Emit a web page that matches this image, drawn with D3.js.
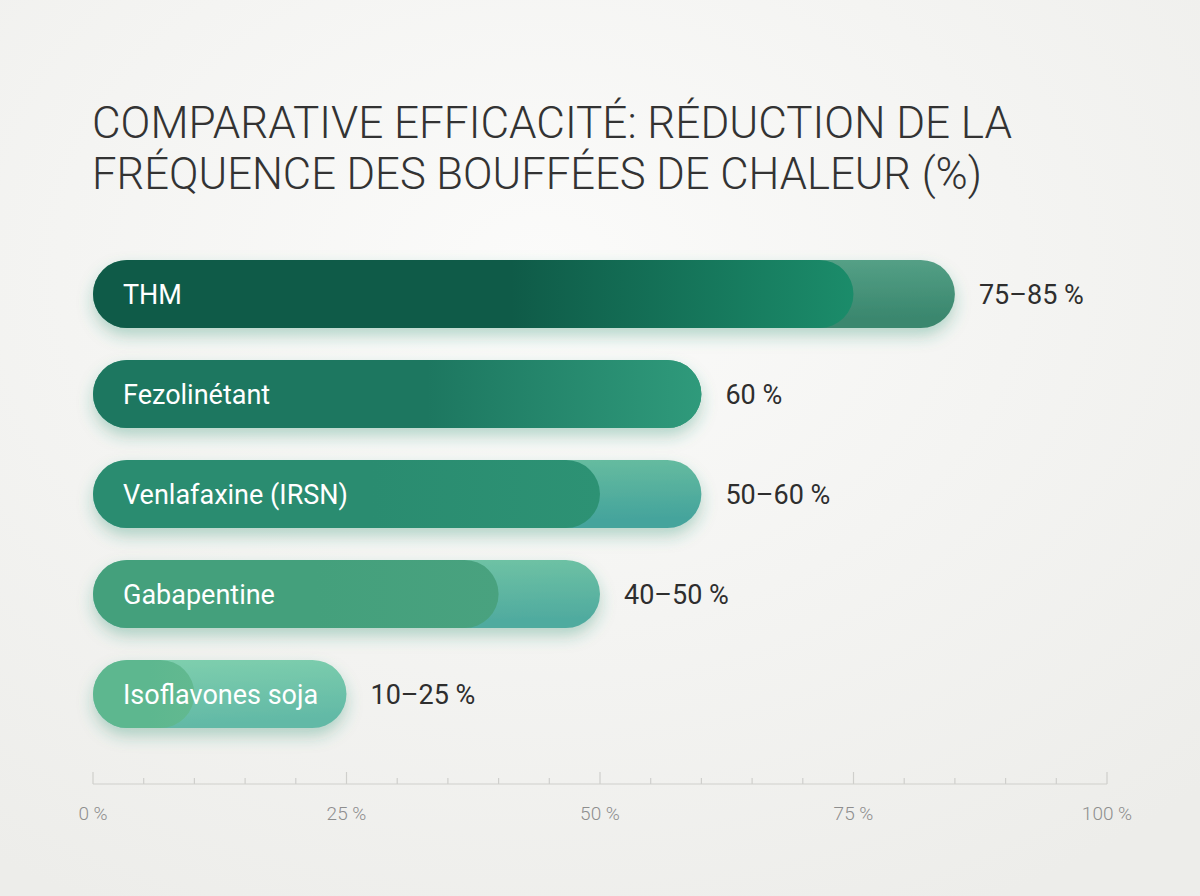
<!DOCTYPE html>
<html>
<head>
<meta charset="utf-8">
<script src="https://cdn.jsdelivr.net/npm/d3@7"></script>
<style>
  body { margin: 0; background: #f3f3f1; }
  svg { display: block; }
</style>
</head>
<body>
<script>

// data
var treatments = ["THM", "Fezolinétant", "Venlafaxine (IRSN)", "Gabapentine", "Isoflavones soja"];
var lowValues = [75, 60, 50, 40, 10];
var highValues = [85, 60, 60, 50, 25];
var valueLabels = ["75–85 %", "60 %", "50–60 %", "40–50 %", "10–25 %"];
var tickValues = [0, 25, 50, 75, 100];
var tickLabels = ["0 %", "25 %", "50 %", "75 %", "100 %"];

// colours for each bar: dark (low) part and light (high) part
var darkStart = ["#0f5b48", "#1d7760", "#2a8c70", "#44a07c", "#5db78f"];
var darkEnd = ["#1b8c6a", "#2f9a7b", "#2d9274", "#49a27f", "#62b990"];
var lightTop = ["#5aa58b", "#3a9e80", "#6cc0a0", "#74c6a5", "#80d0ae"];
var lightBottom = ["#3a876e", "#2f9476", "#45a49c", "#50ab9f", "#62b9a6"];

var width = 1200,
    height = 896,
    margin = {left: 93, right: 93},
    barHeight = 68;

var svg = d3.select("body")
            .append("svg")
            .attr("width", width)
            .attr("height", height);

var defs = svg.append("defs");

// background gradient
var bg = defs.append("radialGradient")
             .attr("id", "bg")
             .attr("cx", "45%").attr("cy", "30%").attr("r", "80%");
bg.append("stop").attr("offset", "0%").attr("stop-color", "#fbfbfa");
bg.append("stop").attr("offset", "100%").attr("stop-color", "#ededea");

svg.append("rect")
   .attr("width", width)
   .attr("height", height)
   .attr("fill", "url(#bg)");

// soft green glow under the bars
var shadow = defs.append("filter")
                 .attr("id", "glow")
                 .attr("x", "-10%").attr("y", "-30%")
                 .attr("width", "120%").attr("height", "200%");
shadow.append("feDropShadow")
      .attr("dx", 0).attr("dy", 8)
      .attr("stdDeviation", 8)
      .attr("flood-color", "#2f8f6e")
      .attr("flood-opacity", 0.33);

treatments.forEach(function(t, i) {
  var g1 = defs.append("linearGradient").attr("id", "dark" + i)
               .attr("x1", "0%").attr("x2", "100%").attr("y1", "0%").attr("y2", "0%");
  g1.append("stop").attr("offset", "0%").attr("stop-color", darkStart[i]);
  g1.append("stop").attr("offset", "55%").attr("stop-color", darkStart[i]);
  g1.append("stop").attr("offset", "100%").attr("stop-color", darkEnd[i]);

  var g2 = defs.append("linearGradient").attr("id", "light" + i)
               .attr("x1", "0%").attr("x2", "20%").attr("y1", "0%").attr("y2", "100%");
  g2.append("stop").attr("offset", "0%").attr("stop-color", lightTop[i]);
  g2.append("stop").attr("offset", "100%").attr("stop-color", lightBottom[i]);
});

// title
var title = svg.append("text")
               .attr("x", 92)
               .attr("fill", "#333333")
               .style("font-family", "Roboto, sans-serif")
               .style("font-weight", 300)
               .style("font-size", "45px");
title.append("tspan").attr("x", 92).attr("y", 138)
     .attr("textLength", 920).attr("lengthAdjust", "spacingAndGlyphs")
     .text("COMPARATIVE EFFICACITÉ: RÉDUCTION DE LA");
title.append("tspan").attr("x", 92).attr("y", 189)
     .attr("textLength", 890).attr("lengthAdjust", "spacingAndGlyphs")
     .text("FRÉQUENCE DES BOUFFÉES DE CHALEUR (%)");

// scales
var xScale = d3.scaleLinear()
               .domain([0, 100])
               .range([margin.left, width - margin.right]);

var yScale = d3.scaleBand()
               .domain(treatments)
               .range([244, 744])
               .paddingInner(0.32)
               .paddingOuter(0.16);

var rows = svg.selectAll("g.row")
              .data(treatments)
              .enter()
              .append("g")
              .attr("class", "row")
              .attr("transform", function(d) { return "translate(0," + yScale(d) + ")"; });

// full range (light) bar
rows.append("rect")
    .attr("x", xScale(0))
    .attr("width", function(d, i) { return xScale(highValues[i]) - xScale(0); })
    .attr("height", barHeight)
    .attr("rx", barHeight / 2)
    .attr("fill", function(d, i) { return "url(#light" + i + ")"; })
    .attr("filter", "url(#glow)");

// low value (dark) bar
rows.append("rect")
    .attr("x", xScale(0))
    .attr("width", function(d, i) { return xScale(lowValues[i]) - xScale(0); })
    .attr("height", barHeight)
    .attr("rx", barHeight / 2)
    .attr("fill", function(d, i) { return "url(#dark" + i + ")"; });

// treatment names inside the bars
rows.append("text")
    .attr("x", xScale(0) + 30)
    .attr("y", barHeight / 2 + 10)
    .attr("fill", "#ffffff")
    .style("font-family", "Roboto, sans-serif")
    .style("font-weight", 400)
    .style("font-size", "27px")
    .text(function(d) { return d; });

// value labels after the bars
rows.append("text")
    .attr("x", function(d, i) { return xScale(highValues[i]) + 24; })
    .attr("y", barHeight / 2 + 10)
    .attr("fill", "#2e2e2e")
    .style("font-family", "Roboto, sans-serif")
    .style("font-weight", 400)
    .style("font-size", "27px")
    .text(function(d, i) { return valueLabels[i]; });

// bottom axis
var axis = svg.append("g")
              .attr("transform", "translate(0,784)");

axis.append("line")
    .attr("x1", xScale(0)).attr("x2", xScale(100))
    .attr("stroke", "#cfcfcc").attr("stroke-width", 1.2);

axis.selectAll("line.tick")
    .data(d3.range(0, 101, 5))
    .enter()
    .append("line")
    .attr("class", "tick")
    .attr("x1", function(d) { return xScale(d); })
    .attr("x2", function(d) { return xScale(d); })
    .attr("y1", function(d) { return d % 25 === 0 ? -12 : -6; })
    .attr("y2", 0)
    .attr("stroke", "#cfcfcc").attr("stroke-width", 1.2);

axis.selectAll("text")
    .data(tickValues)
    .enter()
    .append("text")
    .attr("x", function(d) { return xScale(d); })
    .attr("y", 36)
    .attr("text-anchor", "middle")
    .attr("fill", "#8e8e8e")
    .style("font-family", "Roboto, sans-serif")
    .style("font-weight", 300)
    .style("font-size", "19px")
    .text(function(d, i) { return tickLabels[i]; });

</script>
</body>
</html>
